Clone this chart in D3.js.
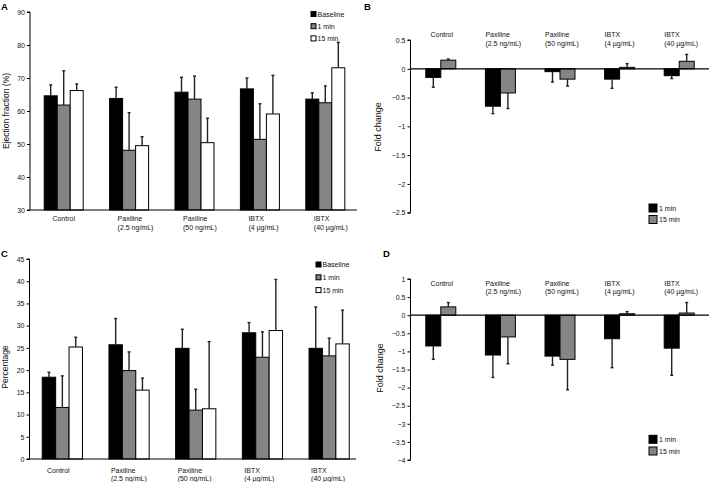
<!DOCTYPE html>
<html>
<head>
<meta charset="utf-8">
<script src="https://cdn.jsdelivr.net/npm/d3@7"></script>
<style>
  html, body { margin: 0; padding: 0; background: #fff; }
  svg { display: block; font-family: "Liberation Sans", Arial, Helvetica, sans-serif; }
</style>
</head>
<body>
<svg id="chart" width="709" height="482"></svg>
<script>
// ---------- DATA ----------
const categories = [
  ["Control"],
  ["Paxiline", "(2.5 ng/mL)"],
  ["Paxiline", "(50 ng/mL)"],
  ["IBTX", "(4 µg/mL)"],
  ["IBTX", "(40 µg/mL)"]
];
const seriesThree = ["Baseline", "1 min", "15 min"];
const seriesTwo = ["1 min", "15 min"];

// Panel A: Ejection fraction (%)
const efBaseline = [64.6, 63.8, 65.7, 66.7, 63.6];
const efBaselineSD = [3.3, 3.4, 4.5, 3.3, 1.9];
const ef1min = [61.8, 48.1, 63.6, 51.4, 62.5];
const ef1minSD = [10.4, 11.4, 7.0, 10.8, 5.1];
const ef15min = [66.2, 49.5, 50.4, 59.1, 73.1];
const ef15minSD = [2.0, 2.7, 7.4, 11.7, 7.7];
const efTicks = [30, 40, 50, 60, 70, 80, 90];

// Panel B: Fold change (ejection fraction)
const fcA1min = [-0.15, -0.65, -0.05, -0.18, -0.12];
const fcA1minSD = [0.17, 0.13, 0.18, 0.16, 0.05];
const fcA15min = [0.15, -0.42, -0.18, 0.025, 0.13];
const fcA15minSD = [0.02, 0.27, 0.12, 0.065, 0.12];
const fcATicks = [0.5, 0, -0.5, -1, -1.5, -2, -2.5];

// Panel C: Percentage
const pcBaseline = [18.4, 25.7, 24.9, 28.4, 24.9];
const pcBaselineSD = [1.1, 5.9, 4.3, 2.3, 9.3];
const pc1min = [11.6, 19.9, 11.0, 22.9, 23.2];
const pc1minSD = [7.1, 4.2, 4.7, 5.7, 4.0];
const pc15min = [25.2, 15.5, 11.3, 28.9, 25.9];
const pc15minSD = [2.2, 2.7, 15.1, 11.5, 7.6];
const pcTicks = [0, 5, 10, 15, 20, 25, 30, 35, 40, 45];

// Panel D: Fold change (percentage)
const fcC1min = [-0.85, -1.10, -1.13, -0.65, -0.91];
const fcC1minSD = [0.37, 0.62, 0.25, 0.80, 0.75];
const fcC15min = [0.23, -0.60, -1.22, 0.04, 0.06];
const fcC15minSD = [0.12, 0.74, 0.84, 0.06, 0.29];
const fcCTicks = [1, 0.5, 0, -0.5, -1, -1.5, -2, -2.5, -3, -3.5, -4];

// ---------- DRAWING ----------
const svg = d3.select("#chart");
const fills3 = ["#000000", "#858585", "#ffffff"];
const fills2 = ["#000000", "#858585"];
const fmt = v => (v < 0 ? "\u2212" : "") + Math.abs(v);

function panel(cfg) {
  const g = svg.append("g");
  const y = d3.scaleLinear().domain(cfg.yDomain).range(cfg.yRange);
  const x0 = d3.scaleBand().domain(d3.range(categories.length)).range(cfg.xRange).padding(0);
  const nS = cfg.series.length;
  const x1 = d3.scaleBand().domain(d3.range(nS)).range([0, cfg.barW * nS]).padding(0);
  const groupStart = i => x0(i) + x0.bandwidth() / 2 - cfg.barW * nS / 2 + (cfg.groupShift || 0);

  // bars & error bars
  cfg.values.forEach((vals, s) => {
    vals.forEach((v, i) => {
      const bx = groupStart(i) + x1(s);
      const base = y(cfg.base);
      const top = y(v);
      g.append("rect")
        .attr("x", bx).attr("y", Math.min(base, top))
        .attr("width", cfg.barW).attr("height", Math.abs(base - top))
        .attr("fill", cfg.fills[s]).attr("stroke", "#000").attr("stroke-width", 1);
      const sd = cfg.sds[s][i];
      const dir = v >= cfg.base ? 1 : -1;
      const end = y(v + dir * sd);
      const cx = bx + cfg.barW / 2;
      g.append("line").attr("x1", cx).attr("x2", cx).attr("y1", top).attr("y2", end)
        .attr("stroke", "#222").attr("stroke-width", 1.4);
      g.append("line").attr("x1", cx - 1.5).attr("x2", cx + 1.5).attr("y1", end).attr("y2", end)
        .attr("stroke", "#222").attr("stroke-width", 1.4);
    });
  });

  // y axis
  const yAxis = d3.axisLeft(y).tickValues(cfg.ticks).tickSize(3).tickPadding(2).tickFormat(fmt);
  const ya = g.append("g").attr("transform", `translate(${cfg.xAxisPos},0)`).call(yAxis);
  ya.select(".domain").attr("stroke", "#000").attr("d", `M-3,${y(cfg.yDomain[1])}H0V${y(cfg.yDomain[0])}H-3`);
  ya.selectAll(".tick line").attr("stroke", "#000");
  ya.selectAll("text").attr("font-size", 7).attr("fill", "#111")
    .attr("font-family", "'Liberation Sans', Arial, sans-serif");

  // baseline line
  g.append("line").attr("x1", cfg.xAxisPos).attr("x2", cfg.baseEnd)
    .attr("y1", y(cfg.base)).attr("y2", y(cfg.base))
    .attr("stroke", "#000").attr("stroke-width", 1.2);

  // category labels
  categories.forEach((lines, i) => {
    const t = g.append("text").attr("font-size", 7).attr("fill", "#111");
    if (lines.length === 1) {
      t.attr("text-anchor", "middle")
        .attr("x", groupStart(i) + cfg.barW * nS / 2 + (cfg.singleShift || 0))
        .attr("y", cfg.labelY).text(lines[0]);
    } else {
      lines.forEach((ln, k) => {
        t.append("tspan").attr("x", groupStart(i) + cfg.labelShift)
          .attr("y", cfg.labelY + k * cfg.lineGap).text(ln);
      });
    }
  });

  // y title
  g.append("text")
    .attr("transform", `translate(${cfg.yTitleX},${cfg.yTitleY}) rotate(-90)`)
    .attr("text-anchor", "middle").attr("font-size", cfg.yTitleSize || 8.5).attr("fill", "#111")
    .text(cfg.yTitle);

  // panel letter
  g.append("text").attr("x", cfg.letterX).attr("y", cfg.letterY)
    .attr("font-size", 9.5).attr("font-weight", "bold").attr("fill", "#000").text(cfg.letter);

  // legend
  cfg.series.forEach((name, s) => {
    const ly = cfg.legY + s * cfg.legGap;
    g.append("rect").attr("x", cfg.legX).attr("y", ly - cfg.legSq / 2)
      .attr("width", cfg.legSq).attr("height", cfg.legSq)
      .attr("fill", cfg.fills[s]).attr("stroke", "#000").attr("stroke-width", 1);
    g.append("text").attr("x", cfg.legX + cfg.legSq + cfg.legTextGap).attr("y", ly + 2.5)
      .attr("font-size", 7).attr("fill", "#111").text(name);
  });
}

// Panel A
panel({
  letter: "A", letterX: 1, letterY: 10,
  yDomain: [30, 90], yRange: [210, 12], ticks: efTicks, base: 30,
  xRange: [31, 358], xAxisPos: 30, baseEnd: 357, barW: 13,
  series: seriesThree, fills: fills3,
  values: [efBaseline, ef1min, ef15min], sds: [efBaselineSD, ef1minSD, ef15minSD],
  labelY: 220.5, lineGap: 9, labelShift: 8, singleShift: 0,
  yTitle: "Ejection fraction (%)", yTitleX: 9, yTitleY: 111,
  legX: 311, legY: 14, legGap: 12.2, legSq: 5, legTextGap: 1.5
});

// Panel B
panel({
  letter: "B", letterX: 364, letterY: 10,
  yDomain: [-2.5, 0.5], yRange: [212.7, 40], ticks: fcATicks, base: 0,
  xRange: [411, 709], xAxisPos: 410.5, baseEnd: 709, barW: 15,
  series: seriesTwo, fills: fills2,
  values: [fcA1min, fcA15min], sds: [fcA1minSD, fcA15minSD],
  labelY: 37, lineGap: 9, labelShift: 0, singleShift: 1,
  yTitle: "Fold change", yTitleX: 381, yTitleY: 127, yTitleSize: 9,
  legX: 649, legY: 208, legGap: 11.5, legSq: 8, legTextGap: 2
});

// Panel C
panel({
  letter: "C", letterX: 1, letterY: 257,
  yDomain: [0, 45], yRange: [459, 259], ticks: pcTicks, base: 0,
  xRange: [29, 362.5], xAxisPos: 29.5, baseEnd: 356, barW: 13.4,
  series: seriesThree, fills: fills3,
  values: [pcBaseline, pc1min, pc15min], sds: [pcBaselineSD, pc1minSD, pc15minSD],
  labelY: 472.5, lineGap: 8.5, labelShift: 2, singleShift: -4,
  yTitle: "Percentage", yTitleX: 8, yTitleY: 367,
  legX: 316, legY: 264.5, legGap: 12.8, legSq: 5, legTextGap: 1.5
});

// Panel D
panel({
  letter: "D", letterX: 383, letterY: 257,
  yDomain: [-4, 1], yRange: [460, 279], ticks: fcCTicks, base: 0,
  xRange: [411, 709], xAxisPos: 410.5, baseEnd: 709, barW: 15,
  series: seriesTwo, fills: fills2,
  values: [fcC1min, fcC15min], sds: [fcC1minSD, fcC15minSD],
  labelY: 285.5, lineGap: 8.5, labelShift: 0, singleShift: 1,
  yTitle: "Fold change", yTitleX: 383, yTitleY: 368, yTitleSize: 9,
  legX: 649, legY: 439.3, legGap: 11.7, legSq: 8, legTextGap: 2
});
</script>
</body>
</html>
